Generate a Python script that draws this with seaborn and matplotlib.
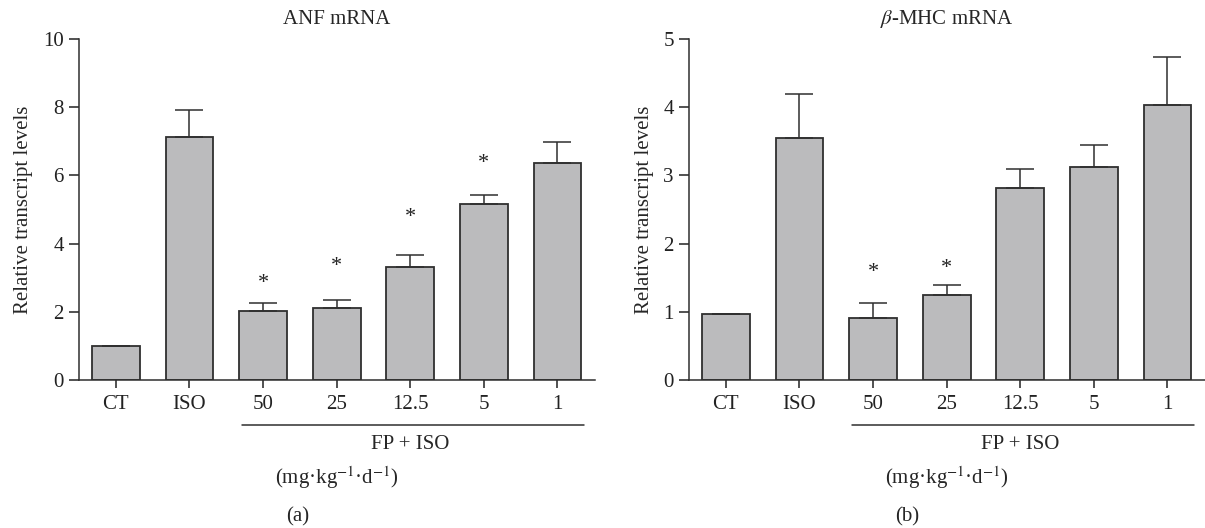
import pandas as pd
import seaborn as sns
import matplotlib.pyplot as plt

# data
groups = ['CT', 'ISO', '50', '25', '12.5', '5', '1']

anf_mean = [1.01, 7.12, 2.01, 2.12, 3.31, 5.17, 6.37]
anf_err = [0.0, 0.80, 0.25, 0.23, 0.35, 0.26, 0.60]
anf_star = [None, None, 2.82, 3.33, 4.78, 6.34, None]

mhc_mean = [0.97, 3.55, 0.91, 1.25, 2.81, 3.12, 4.03]
mhc_err = [0.0, 0.64, 0.22, 0.15, 0.28, 0.33, 0.70]
mhc_star = [None, None, 1.57, 1.64, None, None, None]

sns.set_style('ticks')
plt.rcParams['font.family'] = ['Liberation Serif', 'DejaVu Serif']
plt.rcParams['mathtext.fontset'] = 'stix'

BAR = '#bbbbbd'
EDGE = '#2f2f2f'
FS = 15


def draw_panel(ax, means, errs, stars, ymax, step, title, letter):
    df = pd.DataFrame({'group': groups, 'value': means})
    sns.barplot(data=df, x='group', y='value', order=groups, color=BAR,
                edgecolor=EDGE, linewidth=1.3, width=0.65, errorbar=None,
                saturation=1, ax=ax)
    xs = list(range(len(groups)))
    ax.errorbar(xs, means, yerr=[[0] * len(errs), errs], fmt='none',
                ecolor=EDGE, elinewidth=1.1, capsize=10, capthick=1.1, zorder=1)
    for x, s in zip(xs, stars):
        if s is not None:
            ax.text(x, s, '*', ha='center', va='center', fontsize=16, color='#222')

    ax.set_xlim(-0.5, 6.51)
    ax.set_ylim(0, ymax)
    ax.set_yticks([i * step for i in range(int(ymax / step) + 1)])
    ax.set_xlabel('')
    ax.set_ylabel('Relative transcript levels', fontsize=FS, labelpad=7)
    ax.set_title(title, fontsize=FS, pad=11)
    ax.tick_params(axis='x', length=6, width=1.1, pad=5, labelsize=FS, colors='#222')
    ax.tick_params(axis='y', length=7, width=1.1, pad=4, labelsize=FS, colors='#222')
    for side in ['left', 'bottom']:
        ax.spines[side].set_linewidth(1.1)
        ax.spines[side].set_color(EDGE)
    sns.despine(ax=ax)

    # bracket for the FP + ISO groups
    trans = ax.get_xaxis_transform()
    ax.plot([1.72, 6.36], [-0.132, -0.132], color=EDGE, lw=1.1,
            transform=trans, clip_on=False)
    ax.text(4, -0.19, 'FP + ISO', ha='center', va='center', fontsize=FS,
            transform=trans)
    ax.text(3, -0.285, '(mg·kg$^{-1}$·d$^{-1}$)', ha='center', va='center',
            fontsize=FS, transform=trans)
    ax.text(2.47, -0.40, letter, ha='center', va='center', fontsize=FS,
            transform=trans)


fig = plt.figure(figsize=(12.05, 5.28), dpi=100)
ax1 = fig.add_axes([0.0656, 0.2803, 0.4282, 0.6458])
ax2 = fig.add_axes([0.5718, 0.2803, 0.4282, 0.6458])

draw_panel(ax1, anf_mean, anf_err, anf_star, 10, 2, 'ANF mRNA', '(a)')
draw_panel(ax2, mhc_mean, mhc_err, mhc_star, 5, 1, r'$\beta$-MHC mRNA', '(b)')

fig.savefig('out.png', dpi=100)
